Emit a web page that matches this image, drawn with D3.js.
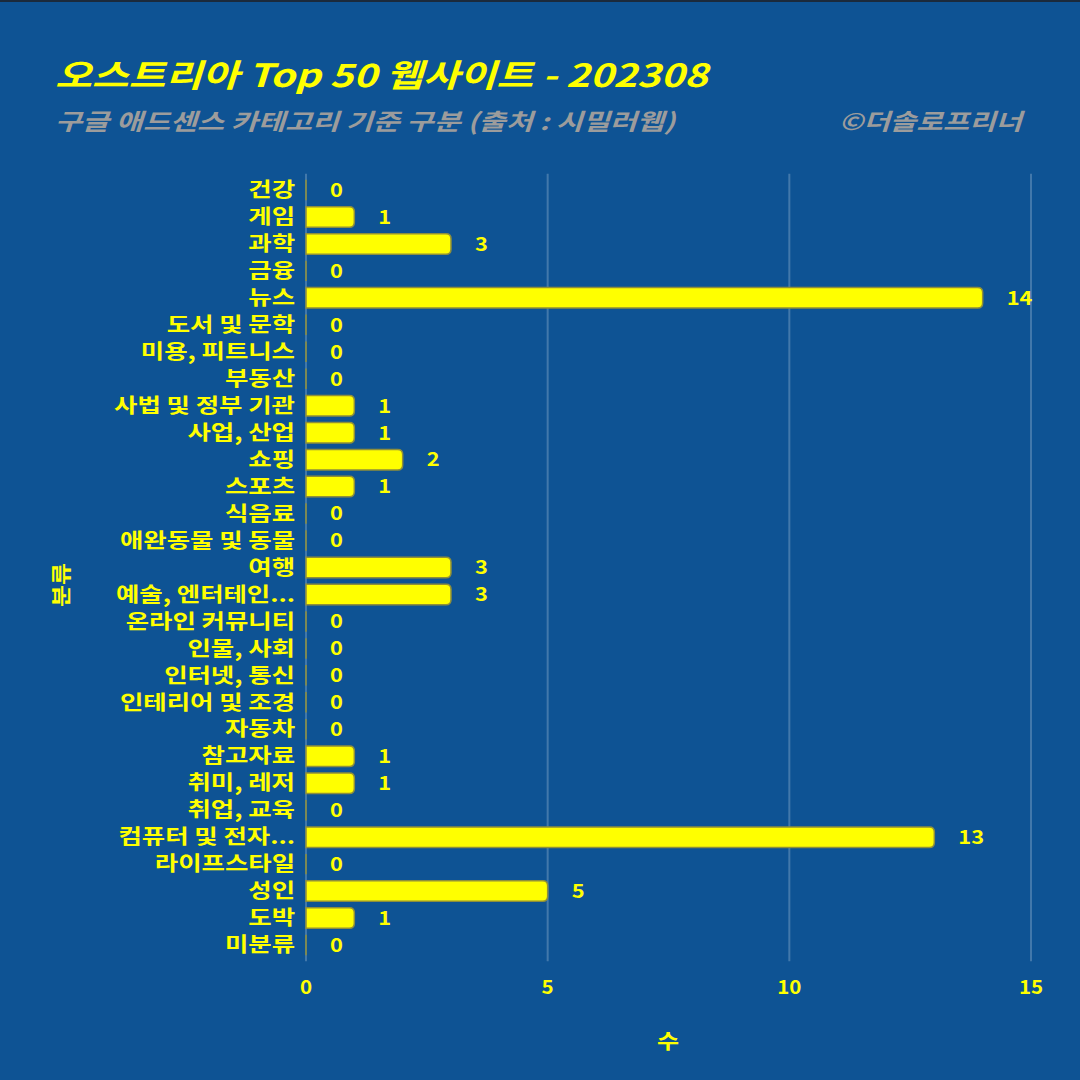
<!DOCTYPE html>
<html><head><meta charset="utf-8">
<script src="https://cdn.jsdelivr.net/npm/d3@7"></script>
<style>html,body{margin:0;padding:0;background:#0E5394;}</style>
</head><body>
<script>
const categories = ["건강","게임","과학","금융","뉴스","도서 및 문학","미용, 피트니스","부동산","사법 및 정부 기관","사업, 산업","쇼핑","스포츠","식음료","애완동물 및 동물","여행","예술, 엔터테인...","온라인 커뮤니티","인물, 사회","인터넷, 통신","인테리어 및 조경","자동차","참고자료","취미, 레저","취업, 교육","컴퓨터 및 전자...","라이프스타일","성인","도박","미분류"];
const counts = [0,1,3,0,14,0,0,0,1,1,2,1,0,0,3,3,0,0,0,0,0,1,1,0,13,0,5,1,0];
const xTicks = [0,5,10,15];
const titleText = "오스트리아 Top 50 웹사이트 - 202308";
const subtitleText = "구글 애드센스 카테고리 기준 구분 (출처 : 시밀러웹)";
const creditText = "©더솔로프리너";
const xLabel = "수", yLabel = "분류";

const W = 1080, H = 1080;
const FONT = "'Noto Sans CJK KR','Noto Sans',sans-serif";
const YEL = "#FFFF00";
const svg = d3.select("body").append("svg").attr("width", W).attr("height", H).style("display","block");
svg.append("rect").attr("width", W).attr("height", H).attr("fill", "#0E5394");
svg.append("rect").attr("width", W).attr("height", 2).attr("fill", "#1b2a3c");

const x = d3.scaleLinear().domain([0,15]).range([306,1031]);
const y = d3.scalePoint().domain(categories).range([173.8,961.2]).padding(0.6);
const bh = y.step()*0.76;

// gridlines
svg.append("g").selectAll("line").data(xTicks).join("line")
  .attr("x1", d=>x(d)).attr("x2", d=>x(d)).attr("y1",173.8).attr("y2",961.2)
  .attr("stroke","rgba(255,255,255,0.22)").attr("stroke-width",2);

const data = categories.map((c,i)=>({c, v:counts[i]}));
function barPath(d){
  const x0 = x(0), x1 = x(d.v), yc = y(d.c), t = yc-bh/2, b = yc+bh/2;
  const r = Math.min(5, (x1-x0));
  return `M${x0},${t}H${x1-r}Q${x1},${t} ${x1},${t+r}V${b-r}Q${x1},${b} ${x1-r},${b}H${x0}Z`;
}
svg.append("g").selectAll("path").data(data).join("path")
  .attr("d", barPath).attr("fill", YEL)
  .attr("stroke","#8f8f3a").attr("stroke-width",1.5);

// stretched text helper
function stext(g, tx, ty, sx, anchor){
  return g.append("text").attr("transform", `translate(${tx},${ty}) scale(${sx},1)`)
    .attr("text-anchor", anchor).attr("font-family", FONT).attr("font-weight","bold");
}

// value labels
const vg = svg.append("g");
data.forEach(d=>{
  stext(vg, x(d.v)+24, y(d.c), 1.15, "start").attr("dy","0.36em")
    .attr("fill", YEL).attr("font-size",19).text(d.v);
});

// category labels
const cg = svg.append("g");
categories.forEach(c=>{
  stext(cg, 295, y(c), 1.27, "end").attr("dy","0.36em")
    .attr("fill", YEL).attr("font-size",20).text(c);
});

// x tick labels
const tg = svg.append("g");
xTicks.forEach(t=>{
  stext(tg, x(t), 987, 1.08, "middle").attr("dy","0.36em")
    .attr("fill", YEL).attr("font-size",19).text(t);
});

// axis titles
stext(svg, 668, 1042, 1.2, "middle").attr("dy","0.36em").attr("fill", YEL).attr("font-size",20).text(xLabel);
svg.append("text").attr("transform","translate(62,585) rotate(-90) scale(1.2,1)").attr("dy","0.36em").attr("text-anchor","middle")
  .attr("fill", YEL).attr("font-family", FONT).attr("font-weight","bold").attr("font-size",20).text(yLabel);

// titles
stext(svg, 55, 87, 1.25, "start").attr("font-style","italic")
  .attr("fill", YEL).attr("font-size",32).text(titleText);
stext(svg, 55, 130, 1.28, "start").attr("font-style","italic")
  .attr("fill", "#9c9c9c").attr("font-size",23).text(subtitleText);
stext(svg, 1022, 130, 1.25, "end").attr("font-style","italic")
  .attr("fill", "#9c9c9c").attr("font-size",23).text(creditText);
</script>
</body></html>
